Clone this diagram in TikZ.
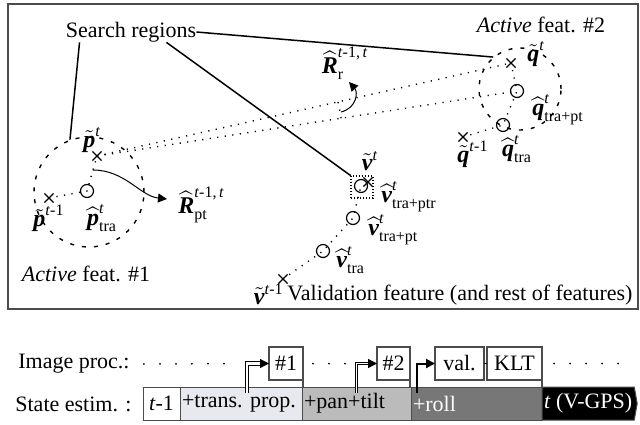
\documentclass[tikz,border=0pt]{standalone}
\usepackage{amsmath}
\usepackage{fontspec}
\setmainfont{Liberation Serif}
\usepackage{tikz}
\usetikzlibrary{arrows.meta,positioning,calc,shapes.misc,shapes.symbols}

\definecolor{transgray}{RGB}{232,233,238}
\definecolor{pangray}{RGB}{187,187,187}
\definecolor{rollgray}{RGB}{119,119,119}

\newcommand{\fvec}[1]{\text{\bfseries\itshape #1}}
\newcommand{\tsup}{\text{\itshape t}}
\newcommand{\tmone}{\text{\itshape t\/\upshape -1}}
\newcommand{\tpair}{\text{\itshape t\/\upshape -1,\,\itshape t}}

\tikzset{
  lbl/.style={inner sep=0pt},
  mlbl/.style={inner sep=0pt, font=\fontsize{12}{14}\selectfont},
  frame/.style={draw=gray!60!black, line width=0.9pt},
  region/.style={circle, draw, line width=0.7pt, dash pattern=on 2pt off 4pt, inner sep=0pt},
  xmark/.style={cross out, draw, line width=0.6pt, minimum size=4pt, inner sep=0pt},
  omark/.style={circle, draw, line width=0.6pt, minimum size=6.5pt, inner sep=0pt},
  dotline/.style={line width=0.7pt, dash pattern=on 0.6pt off 3.2pt},
  pointer/.style={line width=0.75pt},
  rotarrow/.style={->, line width=0.5pt},
  stbox/.style={draw=gray!60!black, line width=0.5pt, minimum height=16.5pt, inner xsep=1pt,
    inner ysep=1.5pt, outer sep=0pt, anchor=west, align=left},
  imbox/.style={draw=gray!60!black, line width=0.6pt, minimum height=16.5pt, inner sep=1pt,
    outer sep=0pt, fill=white},
  tldots/.style={line width=1pt, line cap=round, dash pattern=on 0pt off 8pt},
  hand/.style={->, line width=0.6pt}
}

\begin{document}
\begin{tikzpicture}[x=0.5pt, y=-0.5pt, font=\fontsize{11}{13}\selectfont,
  >={Triangle[length=4.5pt,width=4.5pt]}]
  \useasboundingbox (0,0) rectangle (640,424);
  \draw[frame] (8,4) rectangle (638,309);

  % search regions
  \node[region, minimum size=55pt] (regP) at (89,192) {};
  \node[region, minimum size=41pt] (regQ) at (520,89) {};
  \node[draw, line width=0.6pt, dash pattern=on 0.7pt off 0.8pt, minimum size=11pt, inner sep=0pt] (vbox) at (362,187) {};
  \node[lbl] (search) at (131,32) {Search regions};
  \draw[pointer] ([xshift=7pt]search.south west) -- (regP.110);
  \draw[pointer] (search.east) -- (regQ.130);
  \draw[pointer] ([xshift=-15pt]search.south east) -- (vbox.north west);

  % active feature #1
  \node[xmark] (pT) at (97,156) {};
  \node[xmark] (pP) at (49,198) {};
  \node[omark] (pTra) at (87,191) {};
  \draw[dotline] (pP.center) -- (pTra.center) -- (pT.center);
  \node[mlbl] (pTlab) at (92,140) {$\tilde{\fvec{p}}^{\tsup}$};
  \node[mlbl] (pPlab) at (49,218) {$\tilde{\fvec{p}}^{\tmone}$};
  \node[mlbl] (pTralab) at (102,218) {$\widehat{\fvec{p}}^{\tsup}_{\text{tra}}$};
  \node[lbl] (act1) at (86,274) {\textit{Active} feat. \#1};

  % active feature #2
  \node[xmark] (qT) at (511,63) {};
  \node[omark] (qPt) at (517,91) {};
  \node[omark] (qTra) at (503,125) {};
  \node[xmark] (qP) at (463,137) {};
  \draw[dotline] (qP.center) -- (qTra.center) -- (qPt.center) -- (qT.center);
  \node[mlbl] (qTlab) at (536,54) {$\tilde{\fvec{q}}^{\tsup}$};
  \node[mlbl, anchor=west] (qPtlab) at (532,110) {$\widehat{\fvec{q}}^{\tsup}_{\text{tra+pt}}$};
  \node[mlbl] (qTralab) at (517,149) {$\widehat{\fvec{q}}^{\tsup}_{\text{tra}}$};
  \node[mlbl] (qPlab) at (473,154) {$\tilde{\fvec{q}}^{\tmone}$};
  \node[lbl] (act2) at (541,25) {\textit{Active} feat. \#2};

  % pan-tilt and roll
  \draw[dotline] (pT.center) -- (qT.center);
  \draw[dotline] (pT.center) -- (qPt.center);
  \draw[dotline] ($(pT)!123.5pt!(qPt)$) arc[start angle=8.8, end angle=12.7, radius=123.5pt];
  \coordinate (rArc) at (341,112);
  \draw[rotarrow] (rArc) .. controls (357,108) and (358,92) .. (349,82);
  \node[mlbl] (Rr) at (345,63) {$\widehat{\fvec{R}}^{\tpair}_{\text{r}}$};
  \draw[rotarrow] ($(pTra)!0.6!(pT)$) .. controls (125,170) and (140,196) .. (167,199);
  \node[mlbl, anchor=west] (Rpt) at (178,205) {$\widehat{\fvec{R}}^{\tpair}_{\text{pt}}$};

  % validation feature
  \node[omark] (vPtr) at (361,186) {};
  \node[xmark] (vT) at (368,182) {};
  \node[omark] (vPt) at (353,218) {};
  \node[omark] (vTra) at (323,251) {};
  \node[xmark] (vP) at (283,279) {};
  \draw[dotline] (vP.center) -- (vTra.center) -- (vPt.center) -- (vPtr.center);
  \node[mlbl] (vTlab) at (370,161) {$\tilde{\fvec{v}}^{\tsup}$};
  \node[mlbl, anchor=west] (vPtrlab) at (381,197) {$\widehat{\fvec{v}}^{\tsup}_{\text{tra+ptr}}$};
  \node[mlbl, anchor=west] (vPtlab) at (368,230) {$\widehat{\fvec{v}}^{\tsup}_{\text{tra+pt}}$};
  \node[mlbl, anchor=west] (vTralab) at (336,260) {$\widehat{\fvec{v}}^{\tsup}_{\text{tra}}$};
  \node[mlbl, anchor=east] (vPlab) at (284,294) {$\tilde{\fvec{v}}^{\tmone}$};
  \node[lbl, anchor=west] (valtxt) at (287,295) {Validation feature (and rest of features)};

  % timeline
  \node[lbl, anchor=west] (imgproc) at (18,364) {Image proc.:};
  \node[lbl, anchor=west] (stest) at (15,404) {State estim. :};
  \node[stbox, fill=white, text width=16.5pt, align=center] (s0) at (143,403.5) {\textit{t}-1};
  \node[stbox, fill=transgray, text width=59pt, right=0pt of s0] (trans) {+trans.~prop.};
  \node[stbox, fill=pangray, text width=52.5pt, right=0pt of trans] (pan) {+pan+tilt};
  \node[stbox, fill=rollgray, text=white, text width=63.5pt, right=0pt of pan] (roll) {+roll};
  \node[stbox, signal, signal to=east, signal pointer angle=160, fill=black, text=white,
    right=0pt of roll] (vgps) {\textit{t} (V-GPS)};

  \node[imbox, minimum width=17pt] (n1) at (286,363.5) {\#1};
  \node[imbox, minimum width=16.5pt] (n2) at (393.5,363.5) {\#2};
  \node[imbox, minimum width=24.5pt] (val) at (459.5,363.5) {val.};
  \node[imbox, minimum width=27.5pt] (klt) at (514.5,363.5) {KLT};
  \draw[line width=0.6pt] (val) -- (klt);
  \foreach \b in {n1,n2,klt}
    \draw[draw=gray!60!black, line width=0.6pt] (\b.south east) -- (\b.south east |- trans.north);

  \coordinate (a1) at ([xshift=3pt,yshift=-3pt]trans.north);
  \coordinate (a2) at ([yshift=-3pt]pan.north);
  \coordinate (a3) at ([xshift=3pt,yshift=-3pt]roll.north west);
  \draw[tldots] ([xshift=7pt]imgproc.east) -- ([xshift=-4pt]a1 |- n1);
  \draw[tldots] ([xshift=5pt]n1.east) -- ([xshift=-3pt]a2 |- n2);
  \draw[tldots] ([xshift=6pt]klt.east) -- (632,363.5);
  \draw[hand, double, double distance=1.2pt] (a1) |- (n1);
  \draw[hand, double, double distance=0.5pt] (a2) |- (n2);
  \draw[hand, line width=1pt] (a3) |- (val);
\end{tikzpicture}
\end{document}
